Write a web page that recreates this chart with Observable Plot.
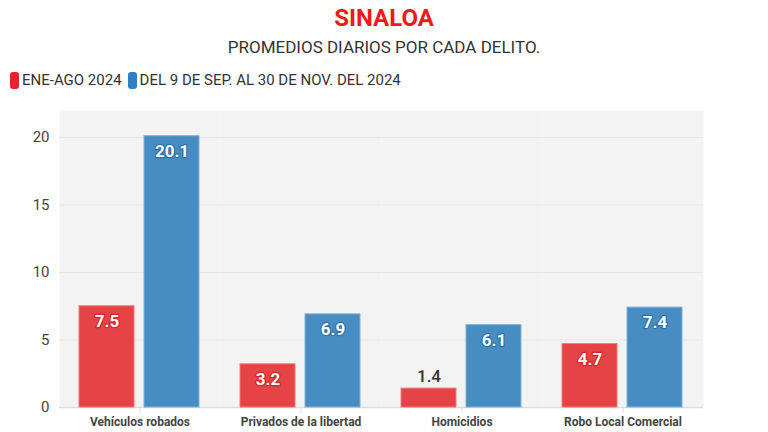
<!DOCTYPE html>
<html>
<head>
<meta charset="utf-8">
<script src="https://cdn.jsdelivr.net/npm/d3@7"></script>
<script src="https://cdn.jsdelivr.net/npm/@observablehq/plot@0.6"></script>
<style>
  body { margin: 0; background: #fff; font-family: Roboto, "Noto Sans", sans-serif; }
  #wrap { width: 768px; height: 432px; position: relative; overflow: hidden; }
  #title { position: absolute; top: 4px; left: 0; width: 768px; text-align: center; font-weight: 700; font-size: 24px; color: #f01a1a; }
  #subtitle { position: absolute; top: 37px; left: 0; width: 768px; text-align: center; font-size: 17px; color: #333; }
  #legend { position: absolute; top: 71px; left: 10px; font-size: 15px; color: #333; display: flex; align-items: center; }
  .sw { display: inline-block; width: 9px; height: 17px; border-radius: 3px; margin-right: 3px; }
  .item { display: flex; align-items: center; margin-right: 6px; }
  #chart { position: absolute; top: 100px; left: 0; }
</style>
</head>
<body>
<div id="wrap">
  <div id="title">SINALOA</div>
  <div id="subtitle">PROMEDIOS DIARIOS POR CADA DELITO.</div>
  <div id="legend"></div>
  <div id="chart"></div>
</div>
<script>
const categories = ["Vehículos robados", "Privados de la libertad", "Homicidios", "Robo Local Comercial"];
const seriesNames = ["ENE-AGO 2024", "DEL 9 DE SEP. AL 30 DE NOV. DEL 2024"];
const serie1 = [7.5, 3.2, 1.4, 4.7];
const serie2 = [20.1, 6.9, 6.1, 7.4];
const barColors = ["#e54345", "#478dc2"];
const swatchColors = ["#e8242a", "#2f7fc1"];
const haloColors = ["#d6262a", "#2f72a8"];
const yTicks = [0, 5, 10, 15, 20];

const data = [];
categories.forEach((c, i) => {
  data.push({cat: c, series: seriesNames[0], value: serie1[i], idx: 0});
  data.push({cat: c, series: seriesNames[1], value: serie2[i], idx: 1});
});
const inside = data.filter(d => d.value >= 2);
const outside = data.filter(d => d.value < 2);

// legend
const leg = document.getElementById("legend");
seriesNames.forEach((s, i) => {
  const it = document.createElement("span");
  it.className = "item";
  it.innerHTML = `<span class="sw" style="background:${swatchColors[i]}"></span>${s}`;
  leg.appendChild(it);
});

const chart = Plot.plot({
  width: 768,
  height: 332,
  marginLeft: 58,
  marginRight: 64,
  marginTop: 10,
  marginBottom: 25,
  style: {fontFamily: "Roboto, 'Noto Sans', sans-serif", background: "transparent"},
  fx: {domain: categories, padding: 0, label: null},
  x: {domain: seriesNames, paddingInner: 0.15, paddingOuter: 0.3, axis: null},
  y: {domain: [0, 22], label: null},
  color: {domain: seriesNames, range: barColors},
  marks: [
    Plot.frame({fill: "#f3f3f3", stroke: null}),
    Plot.gridY(yTicks.filter(t => t > 0), {stroke: "#e6e6e6", strokeOpacity: 1}),
    Plot.ruleY([0], {stroke: "#dddddd", strokeWidth: 1.5}),
    Plot.axisY(yTicks, {tickSize: 0, tickPadding: 10, fontSize: 15, fill: "#444", label: null}),
    Plot.axisFx({anchor: "bottom", tickSize: 6, tickPadding: 4, fontSize: 12, fontWeight: 700, fill: "#444", stroke: "#dddddd", label: null}),
    Plot.barY(data, {fx: "cat", x: "series", y: "value", fill: "series", stroke: d => d.idx === 0 ? "#f07b7b" : "#7db3dc", strokeWidth: 1}),
    Plot.text(inside, {fx: "cat", x: "series", y: "value", text: d => d.value.toFixed(1), dy: 15, fill: "white", stroke: d => haloColors[d.idx], strokeWidth: 2.5, paintOrder: "stroke", fontSize: 17, fontWeight: 700}),
    Plot.text(outside, {fx: "cat", x: "series", y: "value", text: d => d.value.toFixed(1), dy: -12, fill: "#333", fontSize: 17, fontWeight: 500})
  ]
});
document.getElementById("chart").appendChild(chart);
</script>
</body>
</html>
